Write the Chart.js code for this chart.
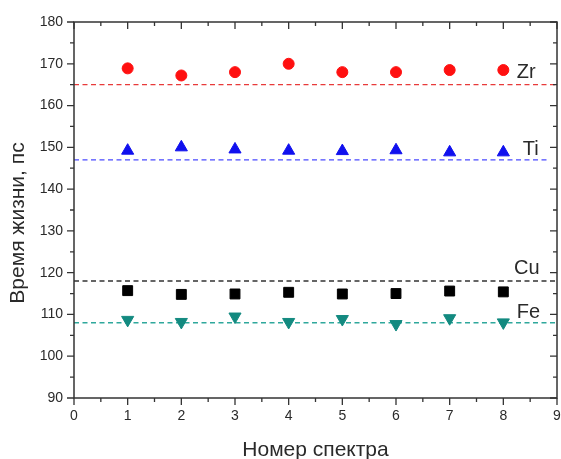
<!DOCTYPE html>
<html>
<head>
<meta charset="utf-8">
<script src="https://cdn.jsdelivr.net/npm/chart.js@4/dist/chart.umd.min.js"></script>
<style>
  html, body { margin: 0; padding: 0; background: #fff; overflow: hidden; }
  #wrap { width: 561px; height: 459px; overflow: hidden; }
</style>
</head>
<body>
<div id="wrap"><canvas id="chart" width="565" height="459"></canvas></div>
<script>
// spectrum numbers
const spectra = [1, 2, 3, 4, 5, 6, 7, 8]

// lifetimes, ps
const zrValues = [168.9, 167.2, 168.0, 170.0, 168.0, 168.0, 168.5, 168.5]
const tiValues = [149.2, 150.0, 149.5, 149.2, 149.1, 149.3, 148.8, 148.8]
const cuValues = [115.7, 114.8, 114.9, 115.3, 114.9, 115.0, 115.6, 115.4]
const feValues = [108.7, 108.2, 109.5, 108.2, 108.9, 107.7, 109.1, 108.1]

// reference levels and their labels
const refNames = ["Zr", "Ti", "Cu", "Fe"]
const refLevels = [165, 147, 118, 108]
const refEnds = [9, 8.83, 9, 9]
const labelX = [8.25, 8.36, 8.2, 8.25]
const labelY = [167.8, 149.4, 120.9, 110.4]

const xRange = [0, 9]
const yRange = [90, 180]

const font = "'Liberation Sans', Arial, sans-serif"
const textColor = "#2a2a2a"

function points(values) {
  return spectra.map((x, i) => ({ x: x, y: values[i] }))
}

function refLine(i) {
  return [{ x: xRange[0], y: refLevels[i] }, { x: refEnds[i], y: refLevels[i] }]
}

// frame, ticks, element labels, y title
const framePlugin = {
  id: "frame",
  afterDraw(chart) {
    const ctx = chart.ctx
    const a = chart.chartArea
    const xs = chart.scales.x
    const ys = chart.scales.y
    ctx.save()
    ctx.strokeStyle = "#333"
    ctx.lineWidth = 1.5
    ctx.strokeRect(a.left, a.top, a.right - a.left, a.bottom - a.top)

    ctx.lineWidth = 1.3
    ctx.beginPath()
    for (let v = xRange[0]; v <= xRange[1]; v += 0.5) {
      const px = xs.getPixelForValue(v)
      const len = v % 1 === 0 ? 7 : 4
      ctx.moveTo(px, a.bottom)
      ctx.lineTo(px, a.bottom + len)
      ctx.moveTo(px, a.top)
      ctx.lineTo(px, a.top + len)
    }
    for (let v = yRange[0]; v <= yRange[1]; v += 5) {
      const py = ys.getPixelForValue(v)
      const len = v % 10 === 0 ? 7 : 4
      ctx.moveTo(a.left, py)
      ctx.lineTo(a.left - len, py)
      ctx.moveTo(a.right, py)
      ctx.lineTo(a.right - len, py)
    }
    ctx.stroke()

    ctx.fillStyle = textColor
    ctx.font = "20px " + font
    ctx.textAlign = "left"
    ctx.textBaseline = "middle"
    refNames.forEach((name, i) => {
      ctx.fillText(name, xs.getPixelForValue(labelX[i]), ys.getPixelForValue(labelY[i]))
    })

    // y axis title, a bit below the middle like the original
    ctx.font = "21px " + font
    ctx.textAlign = "center"
    ctx.translate(18, (a.top + a.bottom) / 2 + 13)
    ctx.rotate(-Math.PI / 2)
    ctx.fillText("Время жизни, пс", 0, 0)
    ctx.restore()
  },
}

const ctx = document.getElementById("chart").getContext("2d")

const lineStyle = { type: "line", borderWidth: 1.4, borderDash: [5, 3.5], pointRadius: 0 }

new Chart(ctx, {
  type: "scatter",
  data: {
    datasets: [
      {
        label: "Zr",
        data: points(zrValues),
        pointStyle: "circle",
        pointRadius: 5.5,
        backgroundColor: "#ff1010",
        borderColor: "#ff1010",
      },
      {
        label: "Ti",
        data: points(tiValues),
        pointStyle: "triangle",
        pointRadius: 7,
        backgroundColor: "#1010ee",
        borderColor: "#1010ee",
      },
      {
        label: "Cu",
        data: points(cuValues),
        pointStyle: "rect",
        pointRadius: 7,
        backgroundColor: "#000",
        borderColor: "#000",
      },
      {
        label: "Fe",
        data: points(feValues),
        pointStyle: "triangle",
        rotation: 180,
        pointRadius: 7,
        backgroundColor: "#138a80",
        borderColor: "#138a80",
      },
      { ...lineStyle, data: refLine(0), borderColor: "#e83a3a" },
      { ...lineStyle, data: refLine(1), borderColor: "#4a4aff" },
      { ...lineStyle, data: refLine(2), borderColor: "#333" },
      { ...lineStyle, data: refLine(3), borderColor: "#2fa89c" },
    ],
  },
  options: {
    responsive: false,
    animation: false,
    layout: { padding: { top: 22, right: 0, left: 0, bottom: 0 } },
    plugins: {
      legend: { display: false },
      tooltip: { enabled: false },
    },
    scales: {
      x: {
        type: "linear",
        min: xRange[0],
        max: xRange[1],
        grid: { display: false },
        border: { display: false },
        ticks: {
          stepSize: 1,
          padding: 2,
          color: textColor,
          font: { family: font, size: 14 },
        },
        title: {
          display: true,
          text: "Номер спектра",
          color: textColor,
          font: { family: font, size: 21, lineHeight: 1 },
          padding: { top: 0, bottom: -2 },
        },
        afterFit(scale) {
          scale.height = 61
        },
      },
      y: {
        min: yRange[0],
        max: yRange[1],
        grid: { display: false },
        border: { display: false },
        ticks: {
          stepSize: 10,
          padding: 3,
          color: textColor,
          font: { family: font, size: 14 },
        },
        afterFit(scale) {
          scale.width = 74
        },
      },
    },
  },
  plugins: [framePlugin],
})
</script>
</body>
</html>
